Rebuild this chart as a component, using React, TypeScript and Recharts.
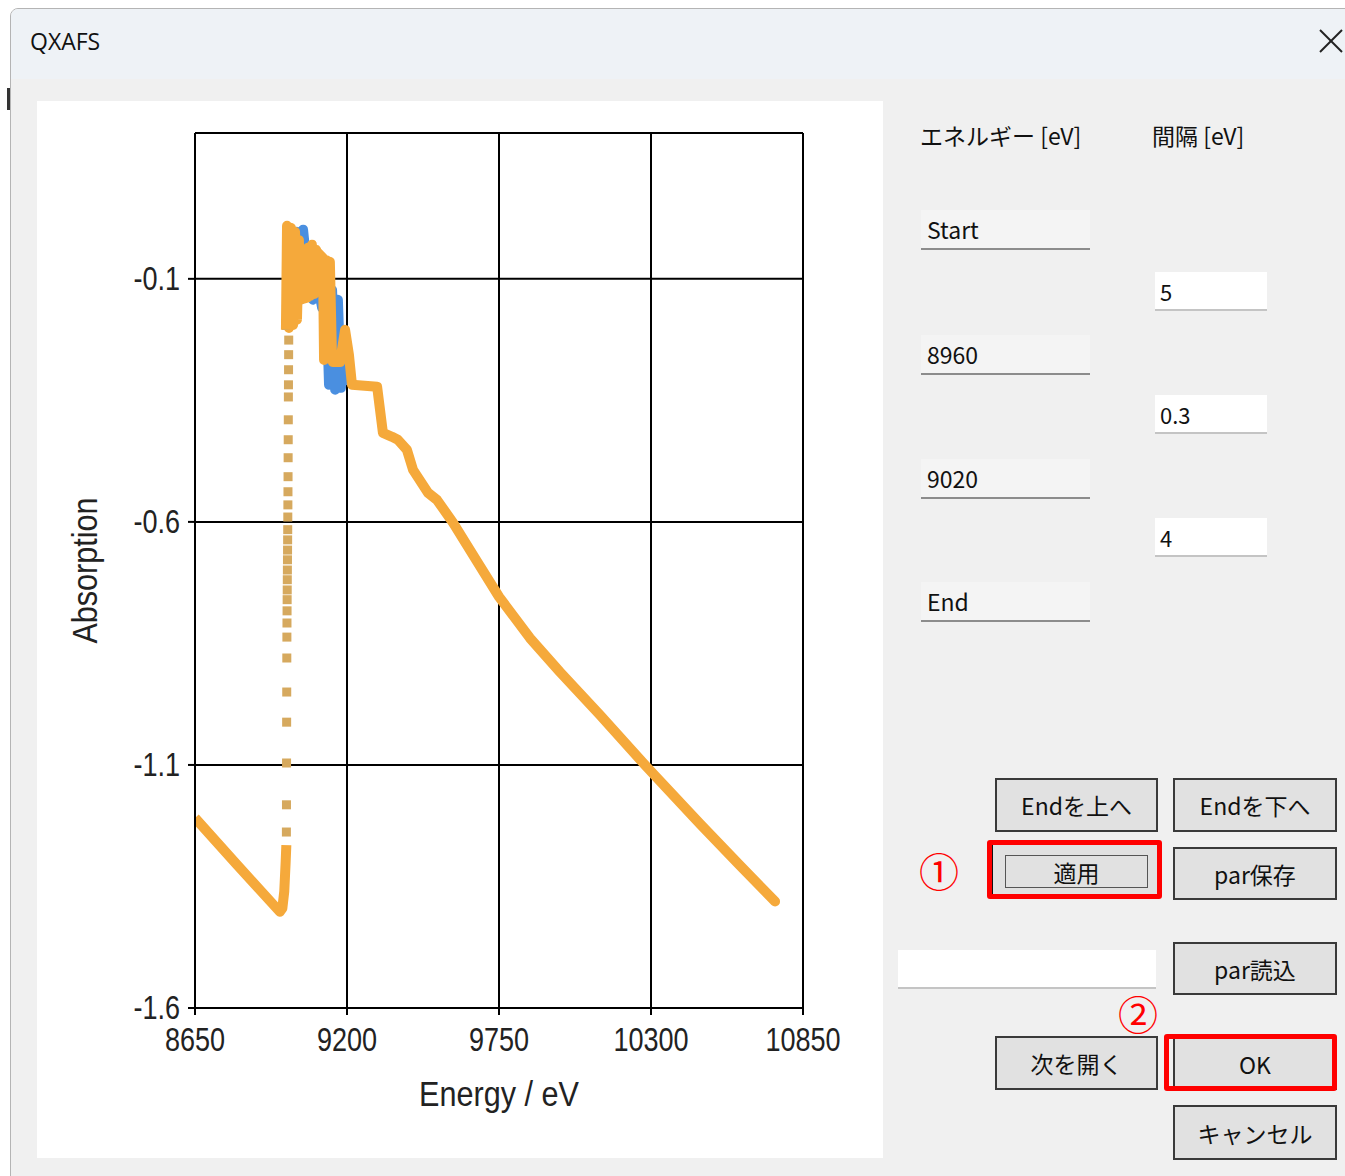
import React from "react";
import {
  ComposedChart,
  Line,
  Scatter,
  XAxis,
  YAxis,
  CartesianGrid,
} from "recharts";

const energyTicks = [8650, 9200, 9750, 10300, 10850];
const absTicks = [-1.6, -1.1, -0.6, -0.1];

// pre-edge slope down to the foot of the edge
const preEdgeE = [8650, 8800, 8957, 8966, 8973, 8978, 8980.5];
const preEdgeV = [-1.209, -1.304, -1.402, -1.395, -1.36, -1.3, -1.265];

// 0.3 eV points across the rising edge
const edgeE = [
  8980.7, 8981.0, 8981.3, 8981.6, 8981.9, 8982.2, 8982.5, 8982.8, 8983.1, 8983.4,
  8983.7, 8984.0, 8984.3, 8984.6, 8984.9, 8985.2, 8985.5, 8985.8, 8986.1, 8986.4,
  8986.7, 8987.0, 8987.3, 8987.6, 8987.9, 8988.2, 8988.5, 8988.8, 8989.1,
];
const edgeV = [
  -1.238, -1.182, -1.096, -1.012, -0.95, -0.88, -0.837, -0.808, -0.783, -0.76,
  -0.74, -0.719, -0.699, -0.678, -0.658, -0.637, -0.616, -0.59, -0.565, -0.538,
  -0.507, -0.468, -0.431, -0.39, -0.343, -0.318, -0.287, -0.256, -0.226,
];

// raw spectrum around the white line
const rawPeakE = [
  8983, 8990, 9001, 9015, 9030, 9041, 9052, 9062, 9077, 9095, 9110, 9124, 9135,
  9146, 9157, 9167, 9178, 9193, 9211,
];
const rawPeakV = [
  -0.205, 0.005, -0.184, -0.003, -0.143, 0.001, -0.061, -0.112, -0.143, -0.112,
  -0.16, -0.112, -0.318, -0.123, -0.328, -0.143, -0.324, -0.226, -0.318,
];

// rebinned spectrum around the white line
const binPeakE = [
  8979, 8983, 8990, 8997, 9005, 9012, 9019, 9026, 9030,
  9055, 9059, 9066, 9073, 9081, 9088, 9091,
  9113, 9117, 9124, 9131, 9138, 9146, 9149,
  9175, 9193, 9207, 9218,
];
const binPeakV = [
  -0.205, 0.009, -0.201, 0.005, -0.195, -0.003, -0.184, -0.02, -0.143,
  -0.139, -0.036, -0.135, -0.03, -0.131, -0.04, -0.044,
  -0.057, -0.267, -0.061, -0.263, -0.065, -0.267, -0.271,
  -0.271, -0.205, -0.256, -0.318,
];

// rebinned spectrum past the white line
const postEdgeE = [
  9218, 9309, 9330, 9363, 9384, 9417, 9439, 9493, 9526, 9584, 9667, 9750, 9862,
  9971, 10115, 10278, 10477, 10622, 10749,
];
const postEdgeV = [
  -0.318, -0.322, -0.417, -0.425, -0.431, -0.452, -0.493, -0.54, -0.555, -0.602,
  -0.678, -0.754, -0.839, -0.909, -0.997, -1.1, -1.221, -1.307, -1.381,
];

const zip = (es: number[], vs: number[]) => es.map((e, i) => ({ e, v: vs[i] }));

const ORANGE = "#f5a93b";
const BLUE = "#4a8fe0";
const TAN = "#d6a95e";

const chartFont = '"Liberation Sans", Arial, sans-serif';
const uiFont = '"Noto Sans CJK JP", "Noto Sans", sans-serif';

function XTick({ x, y, payload }: any) {
  return (
    <text
      transform={`translate(${x},${y + 34}) scale(0.82,1)`}
      textAnchor="middle"
      fontFamily={chartFont}
      fontSize={33}
      fill="#222"
    >
      {payload.value}
    </text>
  );
}

function YTick({ x, y, payload }: any) {
  return (
    <text
      transform={`translate(${x},${y + 11}) scale(0.82,1)`}
      textAnchor="end"
      fontFamily={chartFont}
      fontSize={33}
      fill="#222"
    >
      {payload.value.toFixed(1)}
    </text>
  );
}

function XLabel({ viewBox }: any) {
  const cx = viewBox.x + viewBox.width / 2;
  const cy = viewBox.y + 98;
  return (
    <text
      transform={`translate(${cx},${cy}) scale(0.85,1)`}
      textAnchor="middle"
      fontFamily={chartFont}
      fontSize={36}
      fill="#222"
    >
      Energy / eV
    </text>
  );
}

function YLabel({ viewBox }: any) {
  const cx = viewBox.x + 60;
  const cy = viewBox.y + viewBox.height / 2;
  return (
    <text
      transform={`translate(${cx},${cy}) rotate(-90) scale(0.85,1)`}
      textAnchor="middle"
      fontFamily={chartFont}
      fontSize={36}
      fill="#222"
    >
      Absorption
    </text>
  );
}

const squareDot = (p: any) => (
  <rect x={p.cx - 4.5} y={p.cy - 4.5} width={9} height={9} fill={TAN} />
);

function Spectrum() {
  const band = {
    dataKey: "v",
    strokeWidth: 10,
    strokeLinejoin: "round" as const,
    dot: false,
    type: "linear" as const,
    isAnimationActive: false,
  };
  return (
    <ComposedChart
      width={846}
      height={1057}
      margin={{ top: 32, right: 80, bottom: 0, left: 0 }}
    >
      <CartesianGrid stroke="#000" strokeWidth={2} />
      <XAxis
        type="number"
        dataKey="e"
        domain={[8650, 10850]}
        ticks={energyTicks}
        interval={0}
        allowDataOverflow
        height={150}
        tick={<XTick />}
        tickSize={7}
        axisLine={{ stroke: "#000", strokeWidth: 2 }}
        tickLine={{ stroke: "#000", strokeWidth: 2 }}
        label={{ content: <XLabel /> }}
      />
      <YAxis
        type="number"
        dataKey="v"
        domain={[-1.6, 0.2]}
        ticks={absTicks}
        interval={0}
        allowDataOverflow
        width={158}
        tick={<YTick />}
        tickSize={7}
        tickMargin={8}
        axisLine={{ stroke: "#000", strokeWidth: 2 }}
        tickLine={{ stroke: "#000", strokeWidth: 2 }}
        label={{ content: <YLabel /> }}
      />
      <Line {...band} data={zip(rawPeakE, rawPeakV)} stroke={BLUE} />
      <Line {...band} data={zip(preEdgeE, preEdgeV)} stroke={ORANGE} />
      <Scatter
        data={zip(edgeE, edgeV)}
        dataKey="v"
        shape={squareDot}
        isAnimationActive={false}
      />
      <Line {...band} data={zip(binPeakE, binPeakV)} stroke={ORANGE} />
      <Line
        {...band}
        data={zip(postEdgeE, postEdgeV)}
        stroke={ORANGE}
        strokeLinecap="round"
      />
    </ComposedChart>
  );
}

const abs = (x: number, y: number, w: number, h: number): React.CSSProperties => ({
  position: "absolute",
  left: x,
  top: y,
  width: w,
  height: h,
  boxSizing: "border-box",
});

function Button({ x, y, w, h, label }: any) {
  return (
    <div
      style={{
        ...abs(x, y, w, h),
        background: "#e1e1e1",
        border: "2px solid #3a3a3a",
        display: "flex",
        alignItems: "center",
        justifyContent: "center",
        fontFamily: uiFont,
        fontSize: 23,
        color: "#111",
      }}
    >
      {label}
    </div>
  );
}

function Caption({ x, y, label }: any) {
  return (
    <div
      style={{
        ...abs(x, y, 169, 40),
        background: "#f4f4f4",
        borderBottom: "2px solid #8c8c8c",
        paddingLeft: 6,
        display: "flex",
        alignItems: "center",
        fontFamily: uiFont,
        fontSize: 23,
        color: "#111",
      }}
    >
      {label}
    </div>
  );
}

function Field({ x, y, w, label }: any) {
  return (
    <div
      style={{
        ...abs(x, y, w, 39),
        background: "#fff",
        borderBottom: "2px solid #c4c4c4",
        paddingLeft: 5,
        display: "flex",
        alignItems: "center",
        fontFamily: uiFont,
        fontSize: 22,
        color: "#111",
      }}
    >
      {label}
    </div>
  );
}

function RedFrame({ x, y, w, h }: any) {
  return (
    <div
      style={{
        ...abs(x, y, w, h),
        border: "5px solid #ff0000",
        borderRadius: 3,
      }}
    />
  );
}

function Marker({ x, y, label }: any) {
  return (
    <div
      style={{
        position: "absolute",
        left: x,
        top: y,
        fontFamily: uiFont,
        fontSize: 40,
        lineHeight: "40px",
        color: "#ff0000",
      }}
    >
      {label}
    </div>
  );
}

export default function App() {
  return (
    <div style={{ position: "absolute", left: 0, top: 0, width: 1345, height: 1176, background: "#fff", overflow: "hidden" }}>
      {/* window frame */}
      <div
        style={{
          ...abs(10, 8, 1345, 1180),
          background: "#f0f0f0",
          border: "1px solid #b4b4b4",
          borderTopLeftRadius: 8,
          overflow: "hidden",
        }}
      >
        <div style={{ ...abs(0, 0, 1345, 70), background: "#eef2f6" }} />
      </div>
      <div style={{ ...abs(7, 88, 3, 22), background: "#333" }} />
      <div
        style={{
          position: "absolute",
          left: 30,
          top: 26,
          fontFamily: '"Open Sans", "Noto Sans", sans-serif',
          fontSize: 23,
          lineHeight: "30px",
          color: "#111",
        }}
      >
        QXAFS
      </div>
      <svg style={{ position: "absolute", left: 1318, top: 28 }} width={26} height={26}>
        <line x1={2} y1={2} x2={24} y2={24} stroke="#222" strokeWidth={2} />
        <line x1={24} y1={2} x2={2} y2={24} stroke="#222" strokeWidth={2} />
      </svg>

      {/* plot panel */}
      <div style={{ ...abs(37, 101, 846, 1057), background: "#fff" }}>
        <Spectrum />
      </div>

      {/* parameter table */}
      <div style={{ position: "absolute", left: 920, top: 118, fontFamily: uiFont, fontSize: 23, color: "#111" }}>
        エネルギー [eV]
      </div>
      <div style={{ position: "absolute", left: 1152, top: 118, fontFamily: uiFont, fontSize: 23, color: "#111" }}>
        間隔 [eV]
      </div>
      <Caption x={921} y={210} label="Start" />
      <Caption x={921} y={335} label="8960" />
      <Caption x={921} y={459} label="9020" />
      <Caption x={921} y={582} label="End" />
      <Field x={1155} y={272} w={112} label="5" />
      <Field x={1155} y={395} w={112} label="0.3" />
      <Field x={1155} y={518} w={112} label="4" />

      {/* buttons */}
      <Button x={995} y={778} w={163} h={54} label="Endを上へ" />
      <Button x={1173} y={778} w={164} h={54} label="Endを下へ" />
      <div
        style={{
          ...abs(990, 842, 170, 55),
          background: "#e1e1e1",
          borderTop: "3px solid #111",
          borderLeft: "3px solid #111",
        }}
      />
      <div
        style={{
          ...abs(1005, 855, 143, 33),
          border: "1.5px solid #555",
          display: "flex",
          alignItems: "center",
          justifyContent: "center",
          fontFamily: uiFont,
          fontSize: 23,
          color: "#111",
        }}
      >
        適用
      </div>
      <RedFrame x={987} y={840} w={175} h={59} />
      <Marker x={919} y={850} label="①" />
      <Button x={1173} y={847} w={164} h={53} label="par保存" />
      <Field x={898} y={950} w={258} label="" />
      <Button x={1173} y={942} w={164} h={53} label="par読込" />
      <Marker x={1118} y={993} label="②" />
      <Button x={995} y={1036} w={163} h={54} label="次を開く" />
      <Button x={1173} y={1037} w={164} h={53} label="OK" />
      <RedFrame x={1164} y={1034} w={173} h={57} />
      <Button x={1173} y={1105} w={164} h={55} label="キャンセル" />
    </div>
  );
}
